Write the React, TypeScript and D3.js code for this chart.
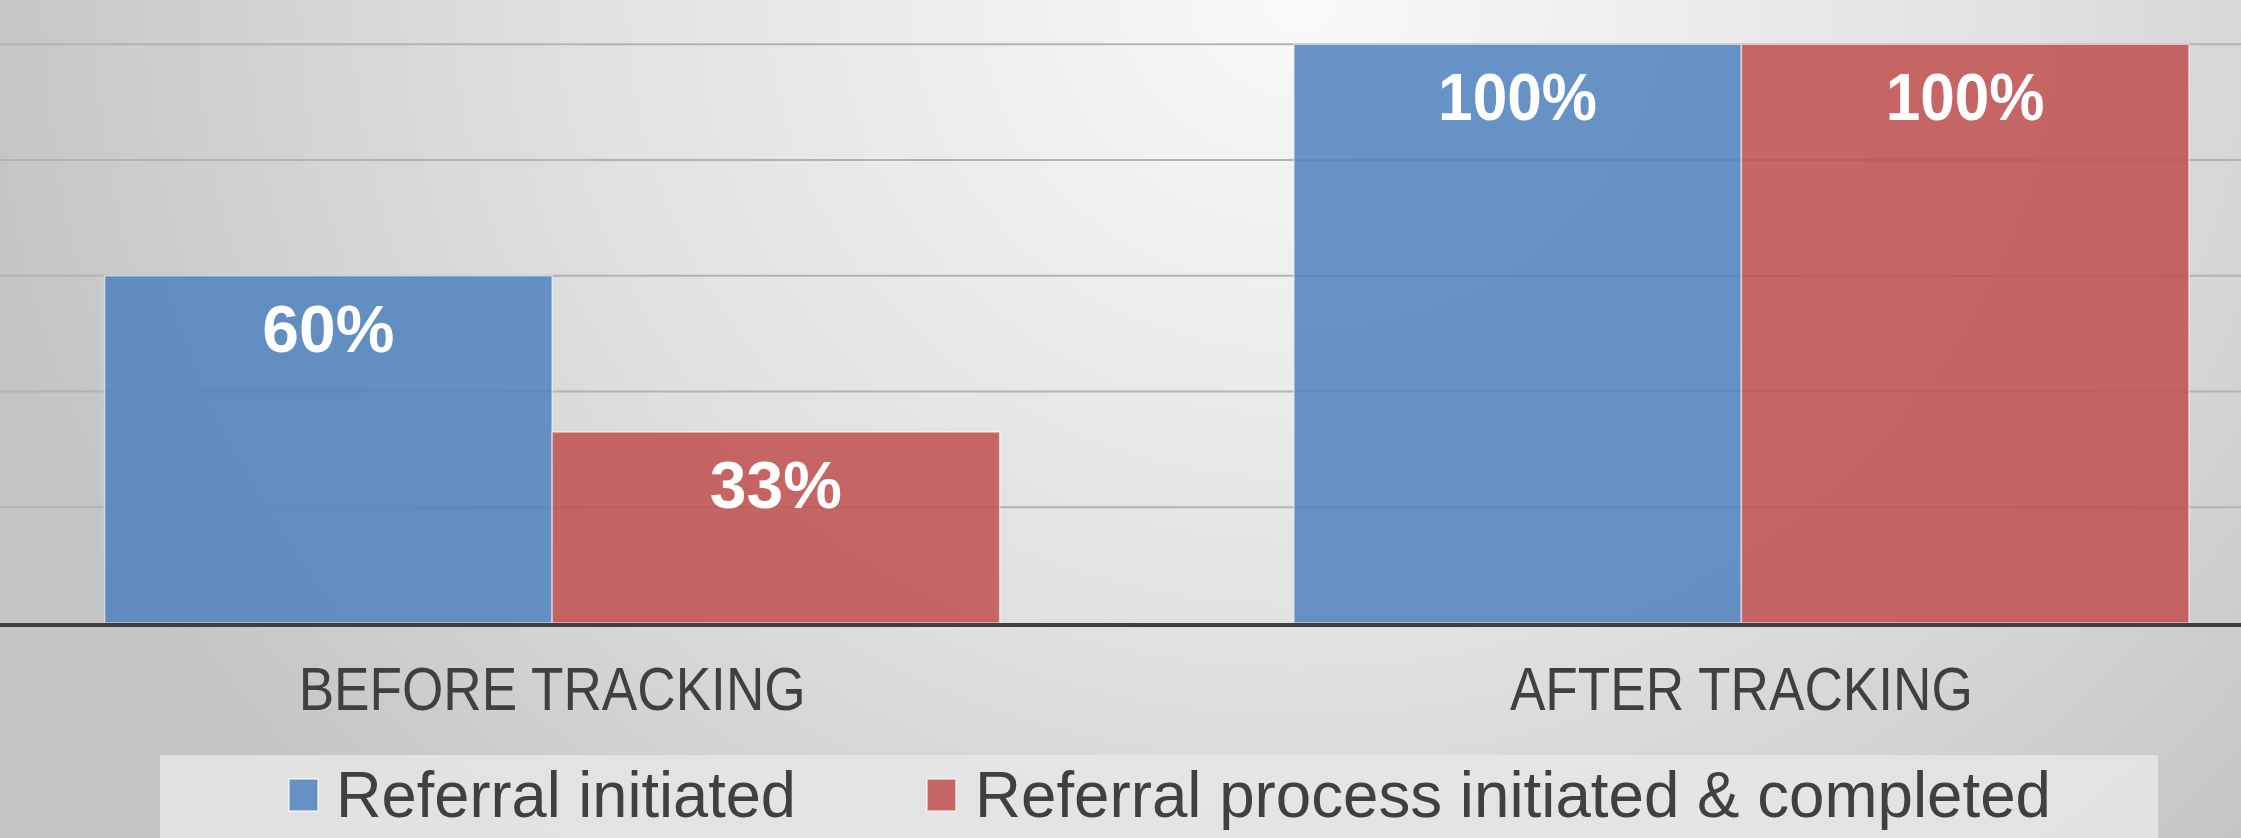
import React, { useEffect, useRef } from "react";
import * as d3 from "d3";

const categories = ["BEFORE TRACKING", "AFTER TRACKING"];
const seriesNames = ["Referral initiated", "Referral process initiated & completed"];
const referralInitiated = [0.6, 1.0];
const processCompleted = [0.33, 1.0];
const valueLabels = [
  ["60%", "100%"],
  ["33%", "100%"],
];
const gridTicks = [0.2, 0.4, 0.6, 0.8, 1.0];

const colors = ["#4F81BD", "#C0504D"];

const App = () => {
  const ref = useRef<SVGSVGElement | null>(null);

  useEffect(() => {
    document.body.style.margin = "0";
    const width = 2241;
    const height = 838;
    const fontFamily = "'Liberation Sans', Arial, sans-serif";

    const svg = d3.select(ref.current);
    svg.selectAll("*").remove();

    // background: soft radial grey gradient
    const defs = svg.append("defs");
    const grad = defs
      .append("radialGradient")
      .attr("id", "bg")
      .attr("gradientUnits", "userSpaceOnUse")
      .attr("cx", 1300)
      .attr("cy", 0)
      .attr("r", 1350)
      .attr("gradientTransform", "translate(1300,0) scale(1,0.9) translate(-1300,0)");
    grad.append("stop").attr("offset", "0").attr("stop-color", "#f9f9f9");
    grad.append("stop").attr("offset", "0.55").attr("stop-color", "#e0e0e0");
    grad.append("stop").attr("offset", "1").attr("stop-color", "#c4c4c4");

    svg.append("rect").attr("width", width).attr("height", height).attr("fill", "url(#bg)");

    // scales
    const x = d3
      .scaleBand()
      .domain(categories)
      .range([-42.5, 2336])
      .paddingInner(0.2474)
      .paddingOuter(0.1237);

    const xSeries = d3.scaleBand().domain(seriesNames).range([0, x.bandwidth()]).padding(0);

    const y = d3.scaleLinear().domain([0, 1]).range([623, 44.3]);

    // gridlines
    svg
      .append("g")
      .selectAll("line")
      .data(gridTicks)
      .join("line")
      .attr("x1", 0)
      .attr("x2", width)
      .attr("y1", (d) => y(d))
      .attr("y2", (d) => y(d))
      .attr("stroke", "#b3b3b3")
      .attr("stroke-width", 2);

    const series = [referralInitiated, processCompleted];

    // bars
    series.forEach((vals, si) => {
      const g = svg.append("g");
      g.selectAll("rect")
        .data(vals)
        .join("rect")
        .attr("x", (d, i) => (x(categories[i]) as number) + (xSeries(seriesNames[si]) as number))
        .attr("y", (d) => y(d))
        .attr("width", xSeries.bandwidth())
        .attr("height", (d) => y(0) - y(d))
        .attr("fill", colors[si])
        .attr("fill-opacity", 0.85)
        .attr("stroke", "rgba(255,255,255,0.55)")
        .attr("stroke-width", 1.5);

      g.selectAll("text")
        .data(vals)
        .join("text")
        .attr(
          "x",
          (d, i) =>
            (x(categories[i]) as number) +
            (xSeries(seriesNames[si]) as number) +
            xSeries.bandwidth() / 2
        )
        .attr("y", (d) => y(d) + 76)
        .attr("text-anchor", "middle")
        .attr("fill", "#ffffff")
        .attr("font-family", fontFamily)
        .attr("font-weight", "bold")
        .attr("font-size", 66)
        .each(function (d, i) {
          const t = d3.select(this);
          if (valueLabels[si][i].length > 3) {
            t.attr("textLength", 159).attr("lengthAdjust", "spacingAndGlyphs");
          }
        })
        .text((d, i) => valueLabels[si][i]);
    });

    // baseline axis
    svg
      .append("line")
      .attr("x1", 0)
      .attr("x2", width)
      .attr("y1", y(0) + 2)
      .attr("y2", y(0) + 2)
      .attr("stroke", "#404040")
      .attr("stroke-width", 4);

    // category labels
    const catWidths = [507, 463];
    svg
      .append("g")
      .selectAll("text")
      .data(categories)
      .join("text")
      .attr("x", (d) => (x(d) as number) + x.bandwidth() / 2)
      .attr("y", 710)
      .attr("text-anchor", "middle")
      .attr("fill", "#404040")
      .attr("font-family", fontFamily)
      .attr("font-size", 61)
      .attr("textLength", (d, i) => catWidths[i])
      .attr("lengthAdjust", "spacingAndGlyphs")
      .text((d) => d);

    // legend
    svg
      .append("rect")
      .attr("x", 160)
      .attr("y", 755)
      .attr("width", 1998)
      .attr("height", 90)
      .attr("fill", "#e6e6e6")
      .attr("fill-opacity", 0.85);

    const legendX = [289, 927];
    const legendTextX = [336, 975];
    const legendWidths = [460, 1076];
    const legend = svg.append("g");
    seriesNames.forEach((name, i) => {
      legend
        .append("rect")
        .attr("x", legendX[i])
        .attr("y", 779)
        .attr("width", 29)
        .attr("height", 32)
        .attr("fill", colors[i])
        .attr("fill-opacity", 0.85)
        .attr("stroke", "rgba(255,255,255,0.7)")
        .attr("stroke-width", 1.5);
      legend
        .append("text")
        .attr("x", legendTextX[i])
        .attr("y", 817)
        .attr("fill", "#404040")
        .attr("font-family", fontFamily)
        .attr("font-size", 64)
        .attr("textLength", legendWidths[i])
        .attr("lengthAdjust", "spacingAndGlyphs")
        .text(name);
    });
  }, []);

  return (
    <svg
      ref={ref}
      width={2241}
      height={838}
      style={{ display: "block", position: "absolute", left: 0, top: 0 }}
    />
  );
};

export default App;
